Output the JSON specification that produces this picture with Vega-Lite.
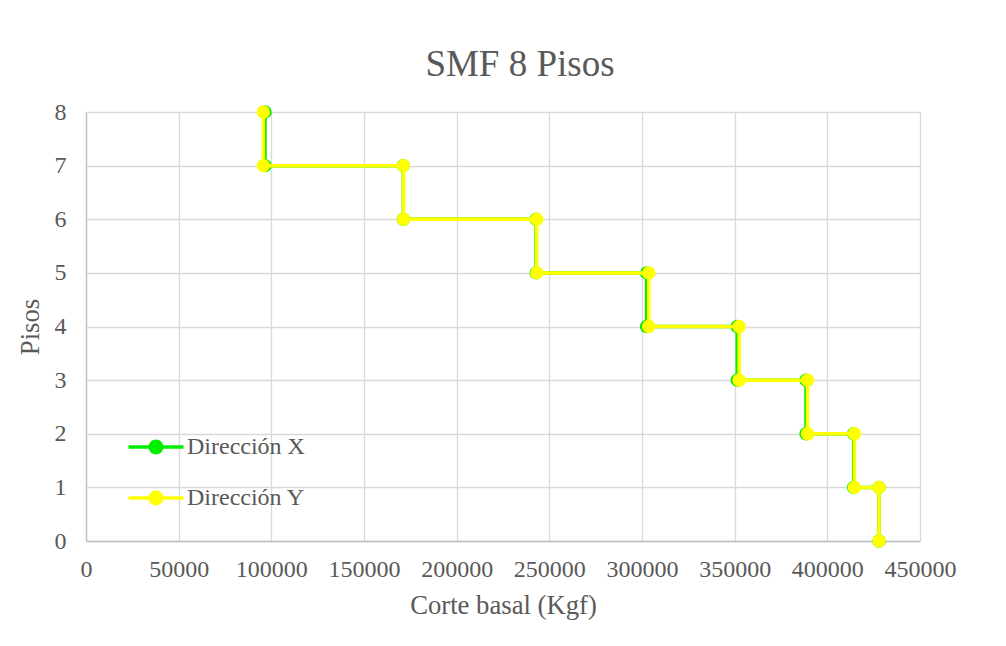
{
  "$schema": "https://vega.github.io/schema/vega-lite/v6.json",
  "width": 834,
  "height": 429,
  "autosize": {"type": "none"},
  "padding": {"left": 86, "top": 112, "right": 86, "bottom": 105},
  "background": "white",
  "title": {
    "text": "SMF 8 Pisos",
    "font": "Liberation Serif",
    "fontSize": 37,
    "fontWeight": "normal",
    "color": "#595959",
    "anchor": "middle",
    "offset": 16,
    "dx": 17
  },
  "data": {
    "values": [
      {"serie": "Dirección X", "o": 1, "corte": 96600, "piso": 8},
      {"serie": "Dirección X", "o": 2, "corte": 96600, "piso": 7},
      {"serie": "Dirección X", "o": 3, "corte": 171200, "piso": 7},
      {"serie": "Dirección X", "o": 4, "corte": 171200, "piso": 6},
      {"serie": "Dirección X", "o": 5, "corte": 242900, "piso": 6},
      {"serie": "Dirección X", "o": 6, "corte": 242900, "piso": 5},
      {"serie": "Dirección X", "o": 7, "corte": 302500, "piso": 5},
      {"serie": "Dirección X", "o": 8, "corte": 302500, "piso": 4},
      {"serie": "Dirección X", "o": 9, "corte": 351400, "piso": 4},
      {"serie": "Dirección X", "o": 10, "corte": 351400, "piso": 3},
      {"serie": "Dirección X", "o": 11, "corte": 388500, "piso": 3},
      {"serie": "Dirección X", "o": 12, "corte": 388500, "piso": 2},
      {"serie": "Dirección X", "o": 13, "corte": 414200, "piso": 2},
      {"serie": "Dirección X", "o": 14, "corte": 414200, "piso": 1},
      {"serie": "Dirección X", "o": 15, "corte": 427900, "piso": 1},
      {"serie": "Dirección X", "o": 16, "corte": 427900, "piso": 0},
      {"serie": "Dirección Y", "o": 1, "corte": 95700, "piso": 8},
      {"serie": "Dirección Y", "o": 2, "corte": 95700, "piso": 7},
      {"serie": "Dirección Y", "o": 3, "corte": 171300, "piso": 7},
      {"serie": "Dirección Y", "o": 4, "corte": 171300, "piso": 6},
      {"serie": "Dirección Y", "o": 5, "corte": 243200, "piso": 6},
      {"serie": "Dirección Y", "o": 6, "corte": 243200, "piso": 5},
      {"serie": "Dirección Y", "o": 7, "corte": 303600, "piso": 5},
      {"serie": "Dirección Y", "o": 8, "corte": 303600, "piso": 4},
      {"serie": "Dirección Y", "o": 9, "corte": 352400, "piso": 4},
      {"serie": "Dirección Y", "o": 10, "corte": 352400, "piso": 3},
      {"serie": "Dirección Y", "o": 11, "corte": 389300, "piso": 3},
      {"serie": "Dirección Y", "o": 12, "corte": 389300, "piso": 2},
      {"serie": "Dirección Y", "o": 13, "corte": 414600, "piso": 2},
      {"serie": "Dirección Y", "o": 14, "corte": 414600, "piso": 1},
      {"serie": "Dirección Y", "o": 15, "corte": 427900, "piso": 1},
      {"serie": "Dirección Y", "o": 16, "corte": 427900, "piso": 0}
    ]
  },
  "encoding": {
    "x": {
      "field": "corte",
      "type": "quantitative",
      "scale": {"domain": [0, 450000], "nice": false, "zero": true},
      "axis": {
        "title": "Corte basal (Kgf)",
        "values": [0, 50000, 100000, 150000, 200000, 250000, 300000, 350000, 400000, 450000],
        "format": "d",
        "labelOverlap": false,
        "labelBound": false,
        "labelFlush": false
      }
    },
    "y": {
      "field": "piso",
      "type": "quantitative",
      "scale": {"domain": [0, 8], "nice": false},
      "axis": {
        "title": "Pisos",
        "values": [0, 1, 2, 3, 4, 5, 6, 7, 8],
        "format": "d",
        "labelOverlap": false
      }
    },
    "order": {"field": "o", "type": "quantitative"},
    "color": {
      "field": "serie",
      "type": "nominal",
      "scale": {"domain": ["Dirección X", "Dirección Y"], "range": ["#00ee00", "#ffff00"]},
      "legend": {
        "title": null,
        "orient": "none",
        "legendX": 56,
        "legendY": 321,
        "padding": 0,
        "symbolType": "M-2,-0.12L-0.5,-0.12L-0.5,0.12L-2,0.12Z M0.5,-0.12L2,-0.12L2,0.12L0.5,0.12Z M-0.54,0A0.54,0.54 0 1,1 0.54,0A0.54,0.54 0 1,1 -0.54,0Z",
        "symbolSize": 756,
        "symbolStrokeWidth": 0,
        "labelFont": "Liberation Serif",
        "labelFontSize": 24,
        "labelColor": "#595959",
        "labelOffset": 17,
        "rowPadding": 25,
        "encode": {
          "symbols": {
            "update": {
              "fill": {"scale": "color", "field": "value"},
              "fillOpacity": {"value": 1},
              "strokeWidth": {"value": 0}
            }
          }
        }
      }
    }
  },
  "layer": [
    {
      "transform": [{"filter": "datum.serie === 'Dirección X'"}],
      "mark": {"type": "line", "strokeWidth": 3.5}
    },
    {
      "transform": [{"filter": "datum.serie === 'Dirección X'"}],
      "mark": {"type": "point", "filled": true, "size": 180, "opacity": 1}
    },
    {
      "transform": [{"filter": "datum.serie === 'Dirección Y'"}],
      "mark": {"type": "line", "strokeWidth": 3.5}
    },
    {
      "transform": [{"filter": "datum.serie === 'Dirección Y'"}],
      "mark": {"type": "point", "filled": true, "size": 180, "opacity": 1}
    }
  ],
  "config": {
    "view": {"stroke": null},
    "axis": {
      "labelFont": "Liberation Serif",
      "labelFontSize": 24,
      "labelColor": "#595959",
      "titleFont": "Liberation Serif",
      "titleFontSize": 26.7,
      "titleFontWeight": "normal",
      "titleColor": "#595959",
      "gridColor": "#d9d9d9",
      "gridWidth": 1.3,
      "domainColor": "#bfbfbf",
      "domainWidth": 1.3,
      "ticks": false
    },
    "axisX": {"labelPadding": 16, "titlePadding": 11, "domain": true},
    "axisY": {"labelPadding": 20, "titlePadding": 10, "domain": true}
  }
}
